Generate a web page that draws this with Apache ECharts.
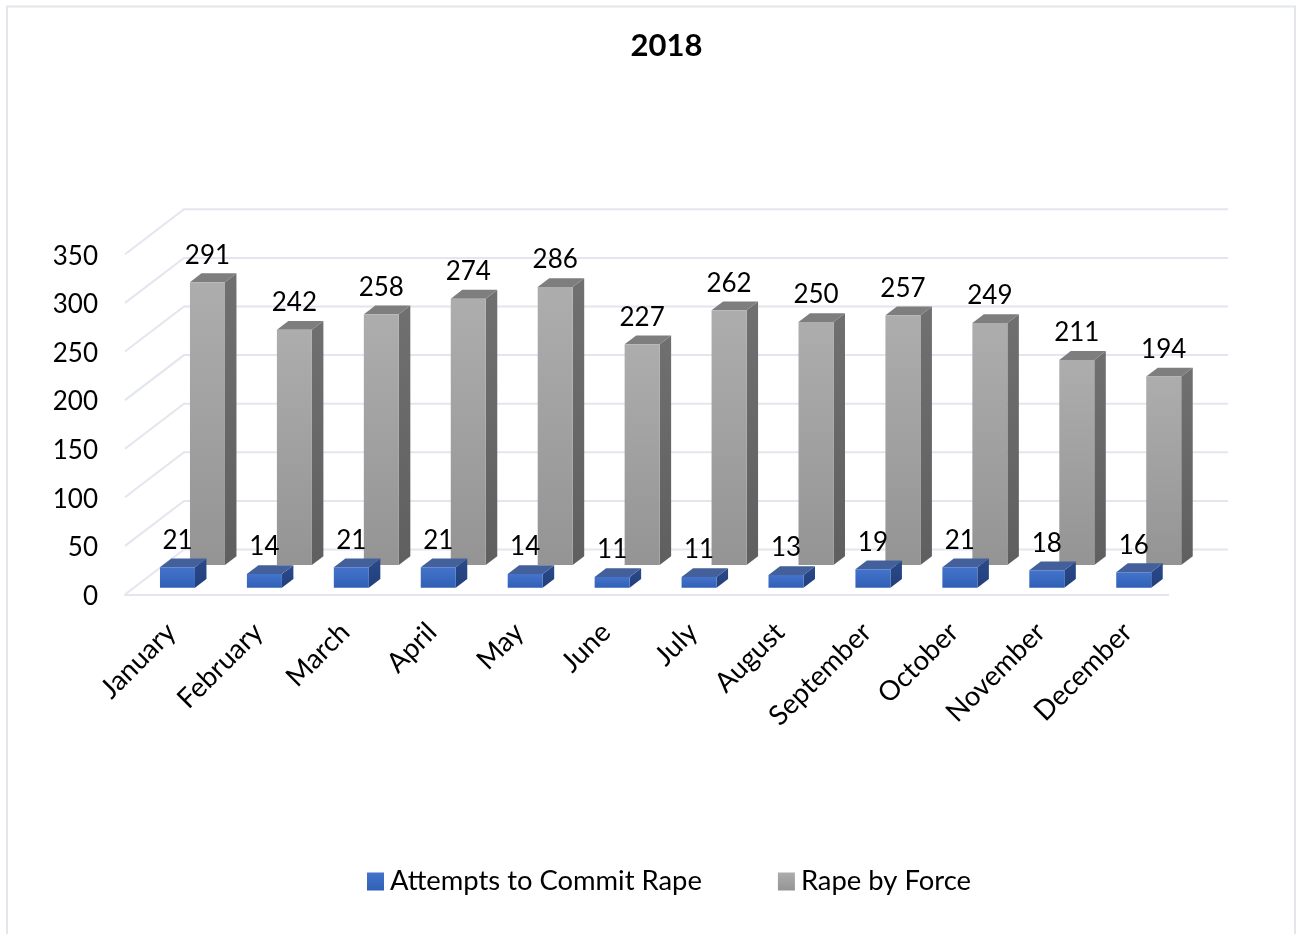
<!DOCTYPE html>
<html>
<head>
<meta charset="utf-8">
<style>html,body{margin:0;padding:0;background:#fff}#c{width:1297px;height:934px}</style>
<script src="https://cdn.jsdelivr.net/npm/echarts@6/dist/echarts.min.js"></script>
</head>
<body>
<div id="c"></div>
<script>
const months = ['January','February','March','April','May','June','July','August','September','October','November','December'];
const attempts = [21,14,21,21,14,11,11,13,19,21,18,16];
const force = [291,242,258,274,286,227,262,250,257,249,211,194];
const yTicks = [0,50,100,150,200,250,300,350];
const chartTitle = '2018';
const nameAttempts = 'Attempts to Commit Rape';
const nameForce = 'Rape by Force';

const FONT = 'Lato';
const DX = 59, DY = -45;         // wall depth
const BW = 35, BDX = 11.5, BDY = -8.8; // bar width and depth
const LG = echarts.graphic.LinearGradient;
const grad = (a, b) => new LG(0, 0, 0, 1, [{offset:0,color:a},{offset:1,color:b}]);

function wallItem(params, api) {
  const cs = params.coordSys;
  const y = api.coord([0, api.value(1)])[1];
  return {
    type: 'polyline',
    silent: true,
    shape: { points: [[cs.x, y], [cs.x + DX, y + DY], [cs.x + cs.width + DX + 1, y + DY]] },
    style: { fill: null, stroke: '#e3e6ee', lineWidth: 2 }
  };
}

function barRenderer(xOff, yOff, colors) {
  return function (params, api) {
    const c0 = api.coord([api.value(0), 0]);
    const c1 = api.coord([api.value(0), api.value(1)]);
    const l = c0[0] + xOff, r = l + BW;
    const b = c0[1] + yOff, t = c1[1] + yOff;
    const poly = (pts, fill) => ({ type: 'polygon', silent: true, shape: { points: pts }, style: { fill: fill } });
    return {
      type: 'group',
      children: [
        poly([[r,b],[r+BDX,b+BDY],[r+BDX,t+BDY],[r,t]], colors.side),
        poly([[l,t],[r,t],[r+BDX,t+BDY],[l+BDX,t+BDY]], colors.top),
        poly([[l,t],[r,t],[r,b],[l,b]], colors.front),
        { type: 'text', silent: true, x: (l + r) / 2, y: t - 27,
          style: { text: String(api.value(1)), fill: '#000', font: '26px ' + FONT,
                   textAlign: 'center', textVerticalAlign: 'middle' } }
      ]
    };
  };
}

const grayColors = { front: grad('#adadad', '#949494'), side: grad('#707070', '#5f5f5f'), top: '#7e7e7e' };
const blueColors = { front: grad('#4573cb', '#2f60b6'), side: grad('#2b4a8a', '#223e7c'), top: '#43609a' };

const chart = echarts.init(document.getElementById('c'), null, { renderer: 'canvas' });
chart.setOption({
  animation: false,
  backgroundColor: '#ffffff',
  title: {
    text: chartTitle, left: 661.5, top: 25, textAlign: 'center',
    textStyle: { fontFamily: FONT, fontSize: 31, fontWeight: 'bold', color: '#000' }
  },
  legend: {
    left: 362, top: 863, itemWidth: 17, itemHeight: 18, itemGap: 76, icon: 'rect',
    data: [nameAttempts, nameForce],
    textStyle: { fontFamily: FONT, fontSize: 27.4, color: '#000', padding: [0, 0, 0, 1] }
  },
  grid: { left: 125, top: 254.3, width: 1043.2, height: 340.2 },
  xAxis: {
    type: 'category', data: months,
    axisLine: { lineStyle: { color: '#e3e6ee', width: 2 } },
    axisTick: { show: false },
    axisLabel: { rotate: 45, interval: 0, margin: 36, color: '#000', fontFamily: FONT, fontSize: 27.5, padding: [0, -4, 0, 0] }
  },
  yAxis: {
    type: 'value', min: 0, max: 350, interval: 50,
    axisLine: { show: false }, axisTick: { show: false }, splitLine: { show: false },
    axisLabel: {
      margin: 27, color: '#000', fontFamily: FONT, fontSize: 26,
      formatter: '{n|{value}}',
      rich: { n: { fontFamily: FONT, fontSize: 26, color: '#000', padding: [4, 0, 0, 0] } }
    }
  },
  graphic: [{
    type: 'rect', silent: true, z: -10,
    shape: { x: 7, y: 6.5, width: 1288, height: 960 },
    style: { fill: null, stroke: '#e3e6ea', lineWidth: 2 }
  }],
  series: [
    { type: 'custom', name: 'walls', silent: true, clip: false, z: 1,
      encode: { x: 0, y: 1 }, data: yTicks.map(v => [0, v]), renderItem: wallItem },
    { type: 'custom', name: nameForce, clip: false, z: 2, silent: true,
      itemStyle: { color: grad('#adadad', '#949494') },
      encode: { x: 0, y: 1 }, data: force.map((v, i) => [i, v]),
      renderItem: barRenderer(21.5, -29.5, grayColors) },
    { type: 'custom', name: nameAttempts, clip: false, z: 3, silent: true,
      itemStyle: { color: grad('#4573cb', '#2f60b6') },
      encode: { x: 0, y: 1 }, data: attempts.map((v, i) => [i, v]),
      renderItem: barRenderer(-8.5, -6.8, blueColors) }
  ]
});
</script>
</body>
</html>
